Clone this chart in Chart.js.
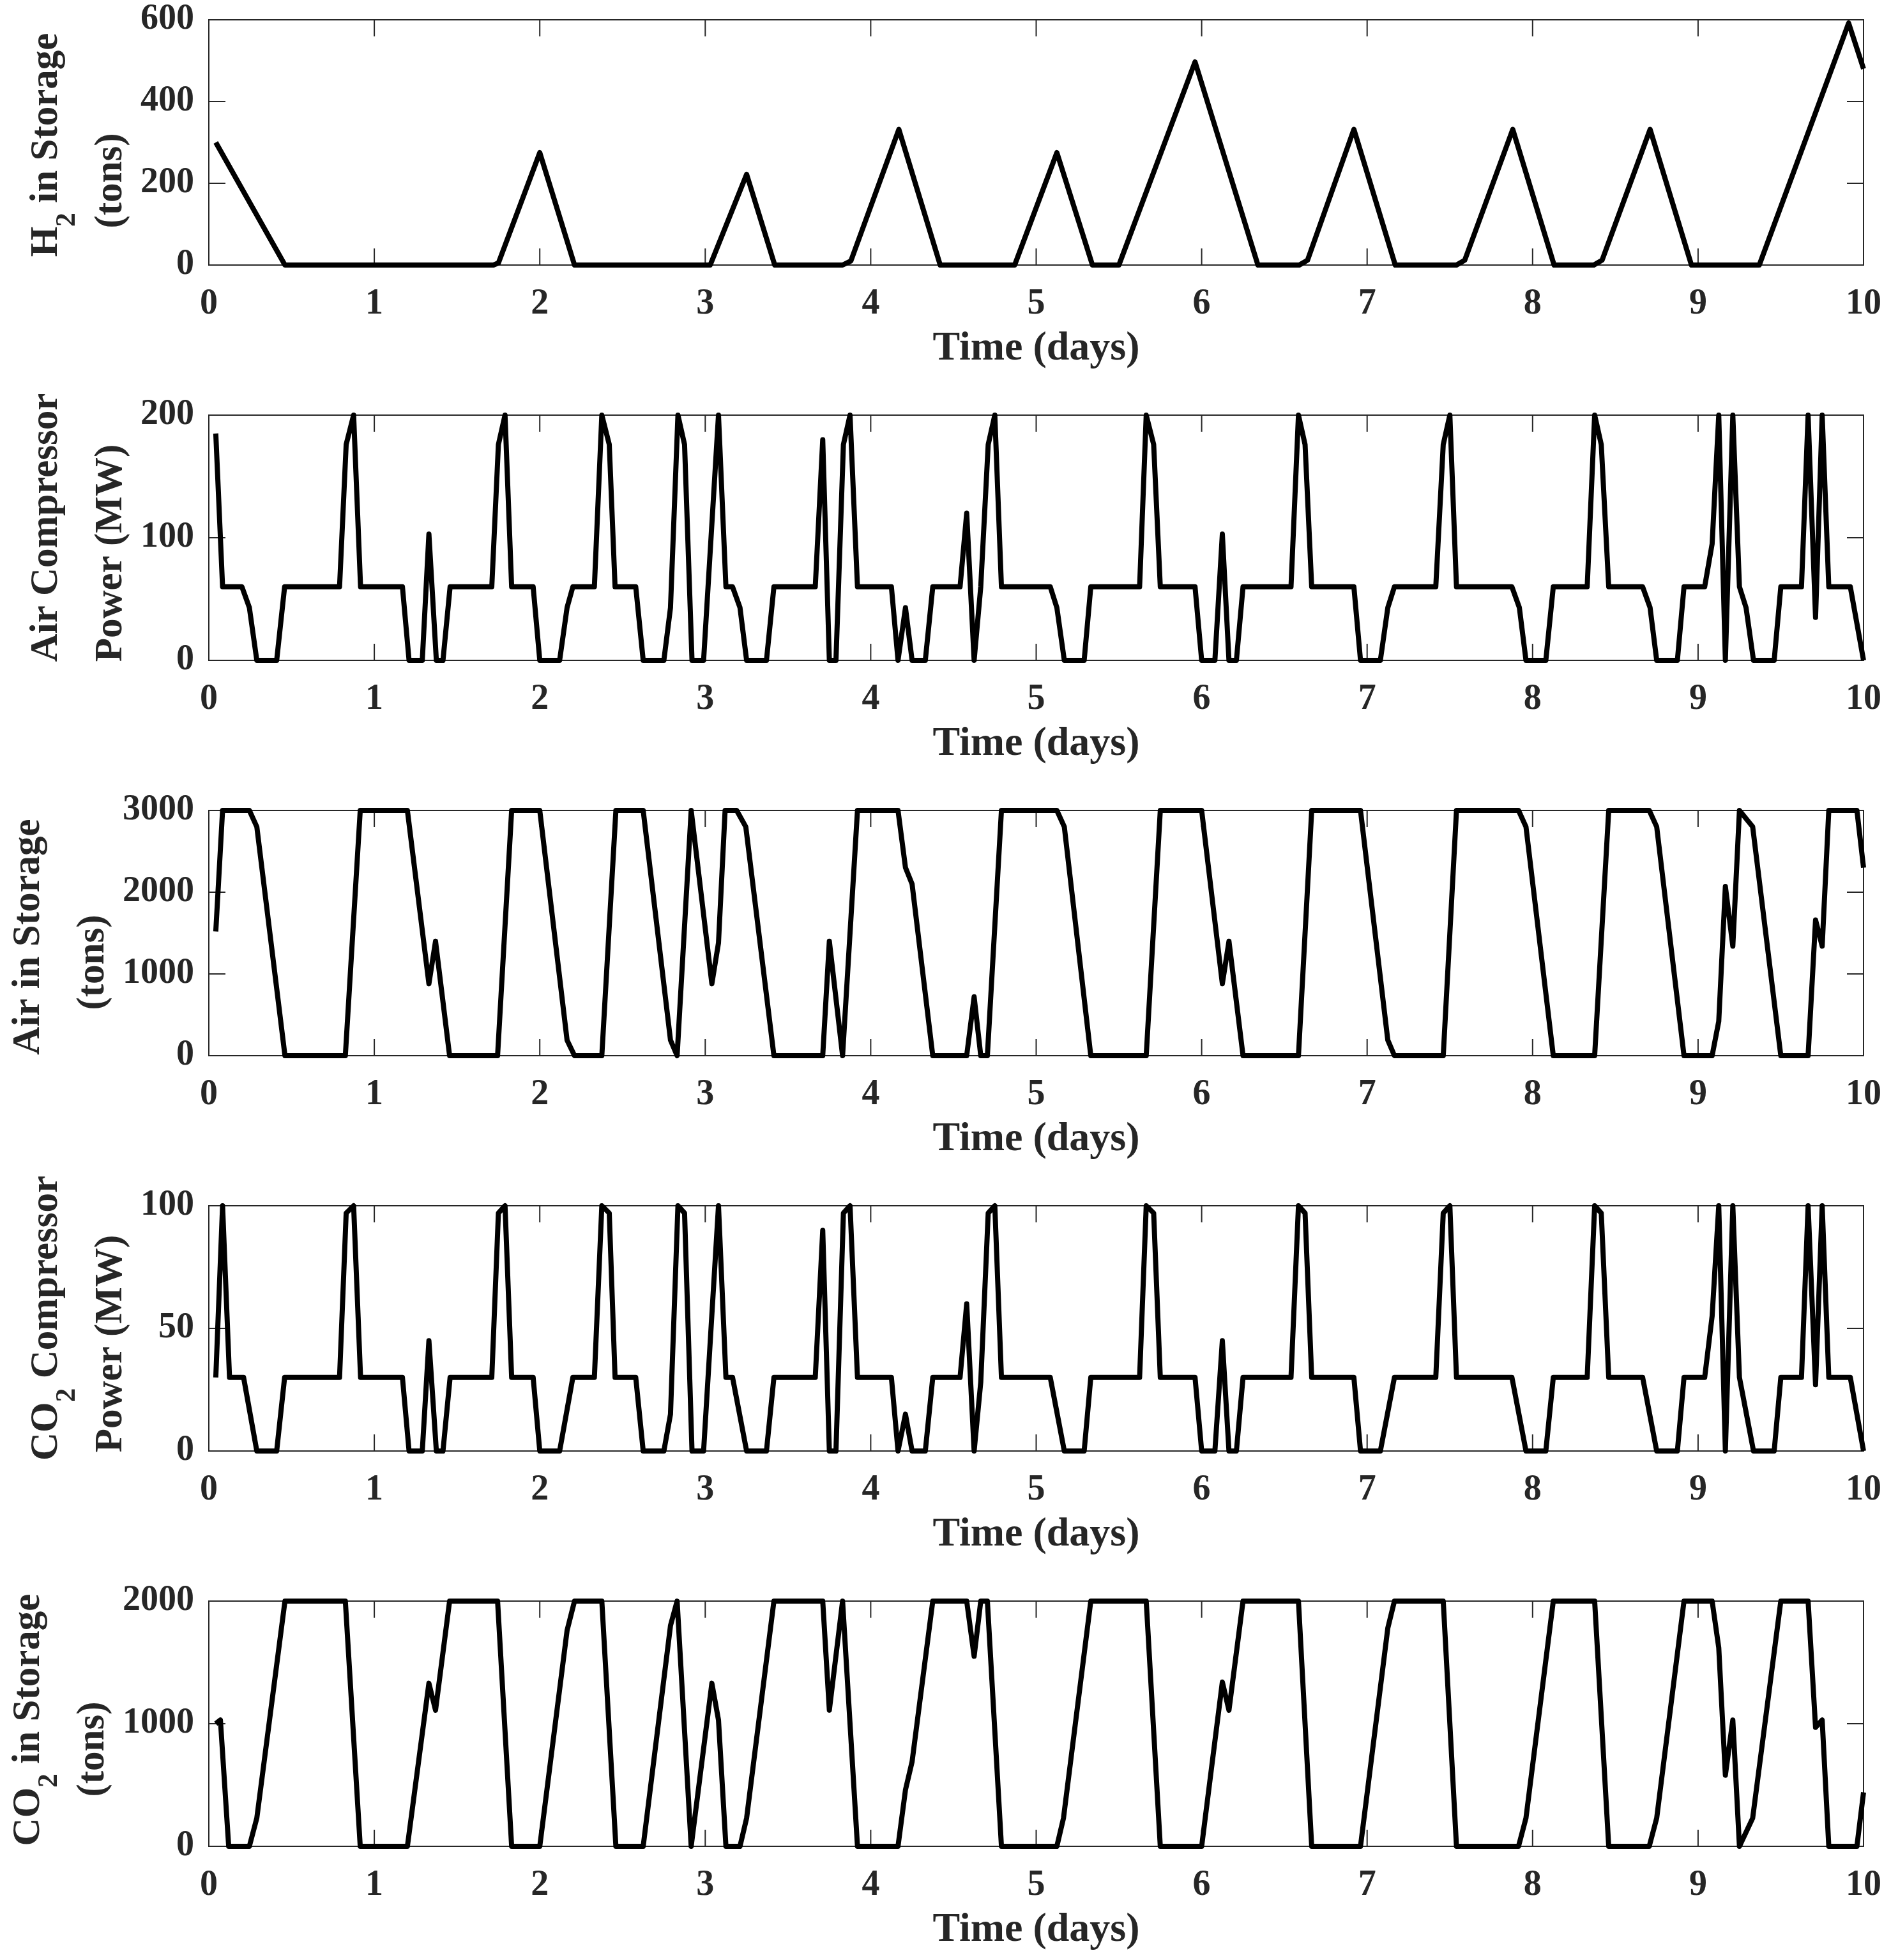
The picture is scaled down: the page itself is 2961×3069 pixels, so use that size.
<!DOCTYPE html>
<html lang="en">
<head>
<meta charset="UTF-8">
<title>Storage and compressor profiles</title>
<script src="https://cdn.jsdelivr.net/npm/chart.js"></script>
<style>
  html, body { margin: 0; padding: 0; background: #fff; }
  body { width: 2961px; height: 3069px; position: relative; overflow: hidden; }
  canvas { position: absolute; left: 0; }
</style>
</head>
<body>
<canvas id="p1" width="2961" height="618"></canvas>
<canvas id="p2" width="2961" height="618"></canvas>
<canvas id="p3" width="2961" height="618"></canvas>
<canvas id="p4" width="2961" height="618"></canvas>
<canvas id="p5" width="2961" height="618"></canvas>
<script>
// ---- data (time in days) ----
const dayTicks = [0, 1, 2, 3, 4, 5, 6, 7, 8, 9, 10];

const h2Ticks = [0, 200, 400, 600];
const h2Days = [0.042, 0.46, 1.72, 1.75, 2.0, 2.21, 3.03, 3.25, 3.42, 3.83, 3.88, 4.17, 4.42, 4.87,
  5.125, 5.34, 5.5, 5.96, 6.34, 6.59, 6.64, 6.92, 7.17, 7.54, 7.59, 7.88, 8.13, 8.37, 8.42,
  8.71, 8.96, 9.37, 9.91, 10.0];
const h2Tons = [300, 0, 0, 5, 275, 0, 0, 222, 0, 0, 10, 332, 0, 0,
  275, 0, 0, 497, 0, 0, 12, 332, 0, 0, 12, 332, 0, 0, 12,
  332, 0, 0, 592, 480];

const airCompTicks = [0, 100, 200];
const airCompDays = [0.042, 0.083, 0.2, 0.245, 0.29, 0.41, 0.458, 0.79, 0.83, 0.875, 0.917,
  1.17, 1.21, 1.29, 1.33, 1.375, 1.415, 1.458, 1.71, 1.75, 1.79, 1.83, 1.96, 2.0,
  2.12, 2.165, 2.2, 2.33, 2.375, 2.42, 2.455, 2.58, 2.625, 2.75, 2.79, 2.835, 2.875, 2.92,
  2.99, 3.08, 3.125, 3.165, 3.21, 3.25, 3.37, 3.415, 3.665, 3.71, 3.75, 3.79, 3.835, 3.875, 3.92,
  4.125, 4.165, 4.21, 4.25, 4.33, 4.375, 4.54, 4.58, 4.625, 4.665, 4.71, 4.75, 4.79,
  5.085, 5.125, 5.17, 5.29, 5.33, 5.625, 5.665, 5.71, 5.75, 5.96, 6.0, 6.08, 6.125, 6.165,
  6.21, 6.25, 6.54, 6.585, 6.625, 6.665, 6.92, 6.96, 7.08, 7.125, 7.165, 7.415, 7.46, 7.5, 7.54,
  7.875, 7.92, 7.96, 8.08, 8.125, 8.33, 8.375, 8.415, 8.46, 8.665, 8.71, 8.75, 8.875, 8.915,
  9.04, 9.085, 9.125, 9.165, 9.21, 9.25, 9.29, 9.335, 9.46, 9.5, 9.625, 9.665, 9.71, 9.75, 9.79,
  9.92, 10.0];
const airCompMW = [185, 60, 60, 43, 0, 0, 60, 60, 176, 200, 60,
  60, 0, 0, 103, 0, 0, 60, 60, 176, 200, 60, 60, 0,
  0, 43, 60, 60, 200, 176, 60, 60, 0, 0, 43, 200, 176, 0,
  0, 200, 60, 60, 43, 0, 0, 60, 60, 180, 0, 0, 176, 200, 60,
  60, 0, 43, 0, 0, 60, 60, 120, 0, 60, 176, 200, 60,
  60, 43, 0, 0, 60, 60, 200, 176, 60, 60, 0, 0, 103, 0,
  0, 60, 60, 200, 176, 60, 60, 0, 0, 43, 60, 60, 176, 200, 60,
  60, 43, 0, 0, 60, 60, 200, 176, 60, 60, 43, 0, 0, 60,
  60, 95, 200, 0, 200, 60, 43, 0, 0, 60, 60, 200, 35, 200, 60,
  60, 0];

const airStoreTicks = [0, 1000, 2000, 3000];
const airStoreDays = [0.042, 0.083, 0.245, 0.29, 0.46, 0.825, 0.915, 1.2, 1.33, 1.37, 1.455,
  1.745, 1.83, 2.0, 2.165, 2.21, 2.375, 2.46, 2.625, 2.79, 2.83, 2.915, 3.04, 3.08, 3.12,
  3.19, 3.245, 3.415, 3.71, 3.75, 3.83, 3.92, 4.165, 4.21, 4.25, 4.375, 4.58, 4.625, 4.665,
  4.705, 4.79, 5.125, 5.17, 5.33, 5.665, 5.75, 6.0, 6.125, 6.165, 6.25, 6.585, 6.665, 6.96,
  7.125, 7.165, 7.46, 7.54, 7.915, 7.96, 8.125, 8.375, 8.46, 8.705, 8.75, 8.915, 9.085,
  9.125, 9.165, 9.21, 9.25, 9.33, 9.5, 9.665, 9.71, 9.75, 9.79, 9.96, 10.0];
const airStoreTons = [1520, 3000, 3000, 2800, 0, 0, 3000, 3000, 880, 1400, 0,
  0, 3000, 3000, 190, 0, 0, 3000, 3000, 190, 0, 3000, 880, 1380, 3000,
  3000, 2800, 0, 0, 1400, 0, 3000, 3000, 2300, 2100, 0, 0, 720, 0,
  0, 3000, 3000, 2800, 0, 0, 3000, 3000, 880, 1400, 0, 0, 3000, 3000,
  190, 0, 0, 3000, 3000, 2800, 0, 0, 3000, 3000, 2800, 0, 0,
  420, 2070, 1340, 3000, 2800, 0, 0, 1660, 1340, 3000, 3000, 2300];

const co2CompTicks = [0, 50, 100];
const co2CompDays = [0.042, 0.083, 0.125, 0.21, 0.29, 0.41, 0.458, 0.79, 0.83, 0.875, 0.917,
  1.17, 1.21, 1.29, 1.33, 1.375, 1.415, 1.458, 1.71, 1.75, 1.79, 1.83, 1.96, 2.0,
  2.12, 2.2, 2.33, 2.375, 2.42, 2.455, 2.58, 2.625, 2.75, 2.79, 2.835, 2.875, 2.92,
  2.99, 3.08, 3.125, 3.165, 3.25, 3.37, 3.415, 3.665, 3.71, 3.75, 3.79, 3.835, 3.875, 3.92,
  4.125, 4.165, 4.21, 4.25, 4.33, 4.375, 4.54, 4.58, 4.625, 4.665, 4.71, 4.75, 4.79,
  5.085, 5.17, 5.29, 5.33, 5.625, 5.665, 5.71, 5.75, 5.96, 6.0, 6.08, 6.125, 6.165,
  6.21, 6.25, 6.54, 6.585, 6.625, 6.665, 6.92, 6.96, 7.08, 7.165, 7.415, 7.46, 7.5, 7.54,
  7.875, 7.96, 8.08, 8.125, 8.33, 8.375, 8.415, 8.46, 8.665, 8.75, 8.875, 8.915,
  9.04, 9.085, 9.125, 9.165, 9.21, 9.25, 9.335, 9.46, 9.5, 9.625, 9.665, 9.71, 9.75, 9.79,
  9.92, 10.0];
const co2CompMW = [30, 100, 30, 30, 0, 0, 30, 30, 97, 100, 30,
  30, 0, 0, 45, 0, 0, 30, 30, 97, 100, 30, 30, 0,
  0, 30, 30, 100, 97, 30, 30, 0, 0, 15, 100, 97, 0,
  0, 100, 30, 30, 0, 0, 30, 30, 90, 0, 0, 97, 100, 30,
  30, 0, 15, 0, 0, 30, 30, 60, 0, 28, 97, 100, 30,
  30, 0, 0, 30, 30, 100, 97, 30, 30, 0, 0, 45, 0,
  0, 30, 30, 100, 97, 30, 30, 0, 0, 30, 30, 97, 100, 30,
  30, 0, 0, 30, 30, 100, 97, 30, 30, 0, 0, 30,
  30, 55, 100, 0, 100, 30, 0, 0, 30, 30, 100, 27, 100, 30,
  30, 0];

const co2StoreTicks = [0, 1000, 2000];
const co2StoreDays = [0.042, 0.07, 0.12, 0.245, 0.29, 0.46, 0.825, 0.915, 1.2, 1.33, 1.37, 1.455,
  1.745, 1.83, 2.0, 2.165, 2.21, 2.375, 2.46, 2.625, 2.79, 2.83, 2.915, 3.04, 3.08, 3.125,
  3.21, 3.25, 3.415, 3.71, 3.75, 3.83, 3.92, 4.165, 4.21, 4.25, 4.375, 4.58, 4.625, 4.665,
  4.705, 4.79, 5.125, 5.165, 5.33, 5.665, 5.75, 6.0, 6.125, 6.165, 6.25, 6.585, 6.665,
  6.96, 7.125, 7.165, 7.46, 7.54, 7.915, 7.96, 8.125, 8.375, 8.46, 8.705, 8.75, 8.915,
  9.085, 9.125, 9.165, 9.21, 9.25, 9.33, 9.5, 9.665, 9.71, 9.75, 9.79, 9.96, 10.0];
const co2StoreTons = [1000, 1030, 0, 0, 230, 2000, 2000, 0, 0, 1330, 1110, 2000,
  2000, 0, 0, 1760, 2000, 2000, 0, 0, 1800, 2000, 0, 1330, 1030, 0,
  0, 230, 2000, 2000, 1110, 2000, 0, 0, 460, 690, 2000, 2000, 1550, 2000,
  2000, 0, 0, 230, 2000, 2000, 0, 0, 1340, 1110, 2000, 2000, 0,
  0, 1780, 2000, 2000, 0, 0, 230, 2000, 2000, 0, 0, 230, 2000,
  2000, 1620, 580, 1030, 0, 230, 2000, 2000, 970, 1030, 0, 0, 440];

// ---- look ----
const AXIS = '#262626';
const FONT = "'Liberation Serif', 'Times New Roman', serif";
const TICK_LEN = 26;
const PAD_TOP = 64;
const X_AXIS_H = 170;
const PLOT_LEFT = 327;
const PLOT_TOPS = [31, 650, 1269, 1888, 2507];
const YT_BIG = 61, YT_SUB = 44, YT_DROP = 28;

Chart.defaults.font.family = FONT;
Chart.defaults.color = AXIS;

// box with inward tick marks on all four sides
const boxTicks = {
  id: 'boxTicks',
  beforeDatasetsDraw(chart) {
    const {ctx, chartArea: a, scales: {x, y}} = chart;
    ctx.save();
    ctx.strokeStyle = AXIS;
    ctx.lineWidth = 2;
    ctx.strokeRect(a.left, a.top, a.right - a.left, a.bottom - a.top);
    ctx.beginPath();
    x.ticks.forEach(t => {
      const px = x.getPixelForValue(t.value);
      ctx.moveTo(px, a.bottom); ctx.lineTo(px, a.bottom - TICK_LEN);
      ctx.moveTo(px, a.top); ctx.lineTo(px, a.top + TICK_LEN);
    });
    y.ticks.forEach(t => {
      const py = y.getPixelForValue(t.value);
      ctx.moveTo(a.left, py); ctx.lineTo(a.left + TICK_LEN, py);
      ctx.moveTo(a.right, py); ctx.lineTo(a.right - TICK_LEN, py);
    });
    ctx.stroke();
    ctx.restore();
  }
};

// two-line rotated y label, with a dropped subscript where needed
const yLabel = {
  id: 'yLabel',
  afterDraw(chart, args, opts) {
    const {ctx, chartArea: a, scales: {y}} = chart;
    ctx.save();
    ctx.font = 'bold 56px ' + FONT;
    let maxW = 0;
    y.ticks.forEach(t => { maxW = Math.max(maxW, ctx.measureText(String(t.value)).width); });
    const labelLeft = a.left - 23 - maxW;
    const base2 = labelLeft - 30;
    const base1 = base2 - 101;
    const midY = (a.top + a.bottom) / 2;
    const bases = [base1, base2];
    const shifts = opts.shifts || [0, 40];
    const big = 'bold ' + YT_BIG + 'px ' + FONT, small = 'bold ' + YT_SUB + 'px ' + FONT;
    opts.lines.forEach((parts, i) => {
      let w = 0;
      parts.forEach(p => { ctx.font = p.sub ? small : big; w += ctx.measureText(p.t).width; });
      ctx.save();
      ctx.translate(bases[i], midY + shifts[i]);
      ctx.rotate(-Math.PI / 2);
      ctx.fillStyle = AXIS;
      ctx.textBaseline = 'alphabetic';
      ctx.textAlign = 'left';
      let cx = -w / 2;
      parts.forEach(p => {
        ctx.font = p.sub ? small : big;
        ctx.fillText(p.t, cx, p.sub ? YT_DROP : 0);
        cx += ctx.measureText(p.t).width;
      });
      ctx.restore();
    });
    ctx.restore();
  }
};

function makePanel(id, idx, days, values, yTicks, lines, shifts) {
  const el = document.getElementById(id);
  el.style.top = (PLOT_TOPS[idx] - PAD_TOP) + 'px';
  return new Chart(el, {
    type: 'line',
    data: {
      datasets: [{
        data: days.map((d, i) => ({x: d, y: values[i]})),
        borderColor: '#000',
        borderWidth: 8,
        borderJoinStyle: 'round',
        pointRadius: 0,
        tension: 0,
        fill: false,
        clip: 12
      }]
    },
    options: {
      responsive: false,
      animation: false,
      devicePixelRatio: 1,
      layout: {padding: {top: PAD_TOP, right: 43, left: 0, bottom: 0}},
      plugins: {
        legend: {display: false},
        tooltip: {enabled: false},
        yLabel: {lines, shifts}
      },
      scales: {
        x: {
          type: 'linear',
          min: 0, max: 10,
          afterBuildTicks: s => { s.ticks = dayTicks.map(v => ({value: v})); },
          ticks: {autoSkip: false, maxRotation: 0, padding: 0, color: AXIS,
                  callback: v => String(v),
                  font: {size: 56, weight: 'bold', lineHeight: 2.2}},
          grid: {display: false, drawTicks: false},
          border: {display: false},
          title: {display: true, text: 'Time (days)', color: AXIS, padding: 0,
                  font: {size: 64, weight: 'bold'}},
          afterFit: s => { s.height = X_AXIS_H; }
        },
        y: {
          type: 'linear',
          min: yTicks[0], max: yTicks[yTicks.length - 1],
          afterBuildTicks: s => { s.ticks = yTicks.map(v => ({value: v})); },
          ticks: {autoSkip: false, padding: 23, color: AXIS,
                  callback: v => String(v),
                  font: {size: 56, weight: 'bold'}},
          grid: {display: false, drawTicks: false},
          border: {display: false},
          afterFit: s => { s.width = PLOT_LEFT; }
        }
      }
    },
    plugins: [boxTicks, yLabel]
  });
}

makePanel('p1', 0, h2Days, h2Tons, h2Ticks,
  [[{t: 'H'}, {t: '2', sub: true}, {t: ' in Storage'}], [{t: '(tons)'}]], [4, 60]);
makePanel('p2', 1, airCompDays, airCompMW, airCompTicks,
  [[{t: 'Air Compressor'}], [{t: 'Power (MW)'}]], [-16, 24]);
makePanel('p3', 2, airStoreDays, airStoreTons, airStoreTicks,
  [[{t: 'Air in Storage'}], [{t: '(tons)'}]], [6, 46]);
makePanel('p4', 3, co2CompDays, co2CompMW, co2CompTicks,
  [[{t: 'CO'}, {t: '2', sub: true}, {t: ' Compressor'}], [{t: 'Power (MW)'}]], [-16, 24]);
makePanel('p5', 4, co2StoreDays, co2StoreTons, co2StoreTicks,
  [[{t: 'CO'}, {t: '2', sub: true}, {t: ' in Storage'}], [{t: '(tons)'}]], [-6, 40]);
</script>
</body>
</html>
